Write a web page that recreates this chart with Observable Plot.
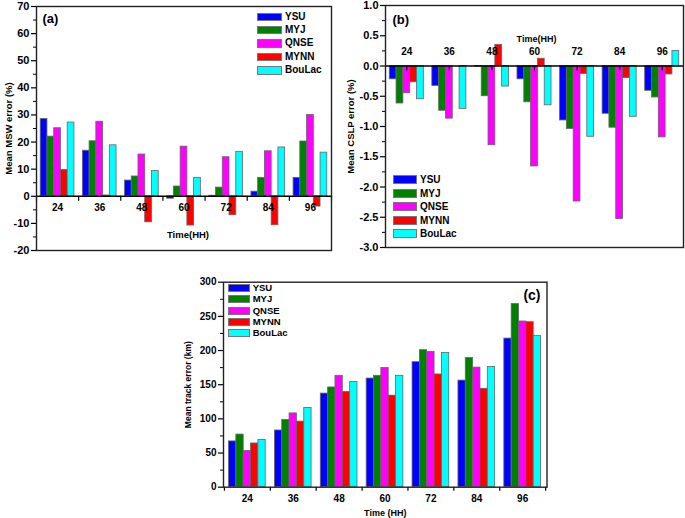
<!DOCTYPE html>
<html>
<head>
<meta charset="utf-8">
<script src="https://cdn.jsdelivr.net/npm/d3@7"></script>
<script src="https://cdn.jsdelivr.net/npm/@observablehq/plot@0.6"></script>
<style>
  html, body { margin: 0; padding: 0; background: #fff; }
  #wrap { position: relative; width: 685px; height: 518px; overflow: hidden; background: #fff; }
  .panel { position: absolute; }
  .panel svg { overflow: visible; }
</style>
</head>
<body>
<div id="wrap"></div>
<script>
// ---------- data ----------
const times = [24, 36, 48, 60, 72, 84, 96];
const models = ["YSU", "MYJ", "QNSE", "MYNN", "BouLac"];
const colors = ["#0000ff", "#008000", "#ff00ff", "#ff0000", "#00ffff"];

// (a) Mean MSW error (%)
const mswYSU    = [28.5, 16.8, 5.8, -0.9, 0.2, 1.7, 6.8];
const mswMYJ    = [22.0, 20.3, 7.3, 3.6, 3.2, 6.8, 20.2];
const mswQNSE   = [25.1, 27.5, 15.4, 18.3, 14.4, 16.6, 30.0];
const mswMYNN   = [9.7, 0.3, -9.6, -10.8, -7.0, -10.7, -3.8];
const mswBouLac = [27.2, 18.8, 9.3, 6.8, 16.4, 18.0, 16.1];

// (b) Mean CSLP error (%)
const cslpYSU    = [-0.22, -0.33, -0.01, -0.22, -0.90, -0.79, -0.41];
const cslpMYJ    = [-0.62, -0.74, -0.50, -0.60, -1.04, -1.02, -0.52];
const cslpQNSE   = [-0.45, -0.87, -1.31, -1.66, -2.24, -2.53, -1.18];
const cslpMYNN   = [-0.27, 0.0, 0.35, 0.12, -0.13, -0.20, -0.14];
const cslpBouLac = [-0.55, -0.71, -0.34, -0.65, -1.17, -0.84, 0.25];

// (c) Mean track error (km)
const trkYSU    = [67, 83, 137, 159, 183, 156, 217.5];
const trkMYJ    = [77, 98.5, 146, 163, 200.5, 189, 268];
const trkQNSE   = [53, 108, 163, 174.5, 198, 175, 242.5];
const trkMYNN   = [64, 96, 139.5, 134, 165, 144, 241.5];
const trkBouLac = [69, 116, 154, 163, 196.5, 176, 221.5];

const mswTicks = d3.range(-20, 71, 10);
const cslpTicks = d3.range(-3, 1.01, 0.5);
const trkTicks = d3.range(0, 301, 50);

// ---------- helpers ----------
const FONT = "'Liberation Sans', Arial, Helvetica, sans-serif";
const wrap = document.getElementById("wrap");
const GW = 0.8, BW = GW / models.length;

function toRows(arrs) {
  return models.flatMap((m, mi) => arrs[mi].map((v, ti) => ({model: m, mi, ti, time: times[ti], value: v})));
}
const x1 = d => d.ti - GW / 2 + d.mi * BW;
const x2 = d => d.ti - GW / 2 + (d.mi + 1) * BW;
const idx = times.map((t, i) => i);
const bounds = d3.range(-0.5, times.length - 0.4, 1);
const tickDown = {draw(context, l) { context.moveTo(0, 0); context.lineTo(0, l); }};

function bars(rows) {
  return Plot.rectY(rows, {x1, x2, y1: () => 0, y2: "value", fill: "model", stroke: "#666", strokeWidth: 0.8});
}

function place(svg, left, top) {
  const d = document.createElement("div");
  d.className = "panel";
  d.style.left = left + "px";
  d.style.top = top + "px";
  d.appendChild(svg);
  wrap.appendChild(d);
}

function legend(left, top, sw, sh, step, fs) {
  const div = document.createElement("div");
  div.style.cssText = `position:absolute;left:${left}px;top:${top}px;font:bold ${fs}px ${FONT};color:#000;`;
  models.forEach((m, i) => {
    const row = document.createElement("div");
    row.style.cssText = `position:absolute;left:0;top:${i * step}px;height:${sh}px;display:flex;align-items:center;white-space:nowrap;`;
    const sq = document.createElement("span");
    sq.style.cssText = `display:inline-block;width:${sw}px;height:${sh}px;background:${colors[i]};border:1px solid #777;box-sizing:border-box;margin-right:3px;`;
    const tx = document.createElement("span");
    tx.textContent = m;
    tx.style.cssText = `line-height:${sh}px;`;
    row.appendChild(sq); row.appendChild(tx);
    div.appendChild(row);
  });
  wrap.appendChild(div);
}

const baseStyle = {fontFamily: FONT, fontWeight: "bold", fontSize: "11px", background: "transparent", color: "#000"};

// ---------- panel (a) ----------
const rowsA = toRows([mswYSU, mswMYJ, mswQNSE, mswMYNN, mswBouLac]);
const A = Plot.plot({
  width: 340, height: 262,
  marginLeft: 36, marginRight: 9, marginTop: 6, marginBottom: 12,
  style: baseStyle,
  x: {domain: [-0.5, times.length - 0.5], axis: null},
  y: {domain: [-20, 70], label: null},
  color: {domain: models, range: colors},
  marks: [
    bars(rowsA),
    Plot.ruleY([0], {stroke: "#000", strokeWidth: 1.5}),
    Plot.vector(bounds, {x: d => d, y: () => 0, length: 4, anchor: "start", shape: tickDown, stroke: "#000", strokeWidth: 1.2}),
    Plot.text(times, {x: (d, i) => i, y: () => 0, dy: 12, text: d => String(d), fontSize: 10}),
    Plot.axisY({ticks: mswTicks, tickSize: 5, tickPadding: 2, tickFormat: d => String(d), label: null, strokeWidth: 1.2}),
    Plot.axisY({ticks: d3.range(-15, 70, 10), tickSize: 3, tickFormat: () => "", label: null}),
    Plot.frame({stroke: "#222", strokeWidth: 1.4}),
    Plot.text(["Mean MSW error (%)"], {frameAnchor: "left", dx: -28, rotate: -90, textAnchor: "middle", lineAnchor: "middle", fontSize: 9.5}),
    Plot.text(["Time(HH)"], {frameAnchor: "bottom", dx: 4, dy: -16, lineAnchor: "middle", fontSize: 9.5}),
    Plot.text(["(a)"], {frameAnchor: "top-left", dx: 6, dy: 12, textAnchor: "start", lineAnchor: "middle", fontSize: 13})
  ]
});
place(A, 0, 0);
legend(257, 12.5, 25, 8.5, 13.4, 10);

// ---------- panel (b) ----------
const rowsB = toRows([cslpYSU, cslpMYJ, cslpQNSE, cslpMYNN, cslpBouLac]);
const B = Plot.plot({
  width: 345, height: 262,
  marginLeft: 45, marginRight: 2, marginTop: 10, marginBottom: 10,
  style: baseStyle,
  x: {domain: [-0.5, times.length - 0.5], axis: null},
  y: {domain: [-3, 1], label: null},
  color: {domain: models, range: colors},
  marks: [
    bars(rowsB),
    Plot.ruleY([0], {stroke: "#000", strokeWidth: 1.5}),
    Plot.vector(idx, {x: d => d, y: () => 0, length: 4, anchor: "start", shape: tickDown, stroke: "#000", strokeWidth: 1.2}),
    Plot.text(times, {x: (d, i) => i, y: () => 0, dy: -14, text: d => String(d), fontSize: 10}),
    Plot.axisY({ticks: cslpTicks, tickSize: 5, tickPadding: 2, tickFormat: d => d.toFixed(1), label: null, strokeWidth: 1.2}),
    Plot.axisY({ticks: d3.range(-2.75, 1, 0.5), tickSize: 3, tickFormat: () => "", label: null}),
    Plot.frame({stroke: "#222", strokeWidth: 1.4}),
    Plot.text(["Mean CSLP error (%)"], {frameAnchor: "left", dx: -35, rotate: -90, textAnchor: "middle", lineAnchor: "middle", fontSize: 9.5}),
    Plot.text(["Time(HH)"], {frameAnchor: "top", dx: 2, dy: 33.5, lineAnchor: "middle", fontSize: 9}),
    Plot.text(["(b)"], {frameAnchor: "top-left", dx: 7, dy: 14, textAnchor: "start", lineAnchor: "middle", fontSize: 13})
  ]
});
place(B, 340, -5);
legend(393, 175, 24, 9, 13.5, 10);

// ---------- panel (c) ----------
const rowsC = toRows([trkYSU, trkMYJ, trkQNSE, trkMYNN, trkBouLac]);
const C = Plot.plot({
  width: 385, height: 243,
  marginLeft: 53, marginRight: 8.5, marginTop: 6.7, marginBottom: 31.3,
  style: {...baseStyle, fontSize: "10px"},
  x: {domain: [-0.52, times.length - 0.47]},
  y: {domain: [0, 300], label: null},
  color: {domain: models, range: colors},
  marks: [
    bars(rowsC),
    Plot.axisX({ticks: bounds, tickSize: 4, tickFormat: () => "", label: null, strokeWidth: 1.2}),
    Plot.text(times, {x: (d, i) => i, frameAnchor: "bottom", dy: 11.5, lineAnchor: "middle", text: d => String(d), fontSize: 10}),
    Plot.axisY({ticks: trkTicks, tickSize: 5, tickPadding: 2, tickFormat: d => String(d), label: null, strokeWidth: 1.2}),
    Plot.axisY({ticks: d3.range(25, 300, 50), tickSize: 3, tickFormat: () => "", label: null}),
    Plot.frame({stroke: "#222", strokeWidth: 1.4}),
    Plot.text(["Mean track error (km)"], {frameAnchor: "left", dx: -35, rotate: -90, textAnchor: "middle", lineAnchor: "middle", fontSize: 8.5}),
    Plot.text(["Time (HH)"], {frameAnchor: "bottom", dy: 26, lineAnchor: "middle", fontSize: 9}),
    Plot.text(["(c)"], {frameAnchor: "top-right", dx: -6.5, dy: 13, textAnchor: "end", lineAnchor: "middle", fontSize: 14})
  ]
});
place(C, 170, 275);
legend(227.7, 284, 22, 8, 11.25, 9.5);
</script>
</body>
</html>
